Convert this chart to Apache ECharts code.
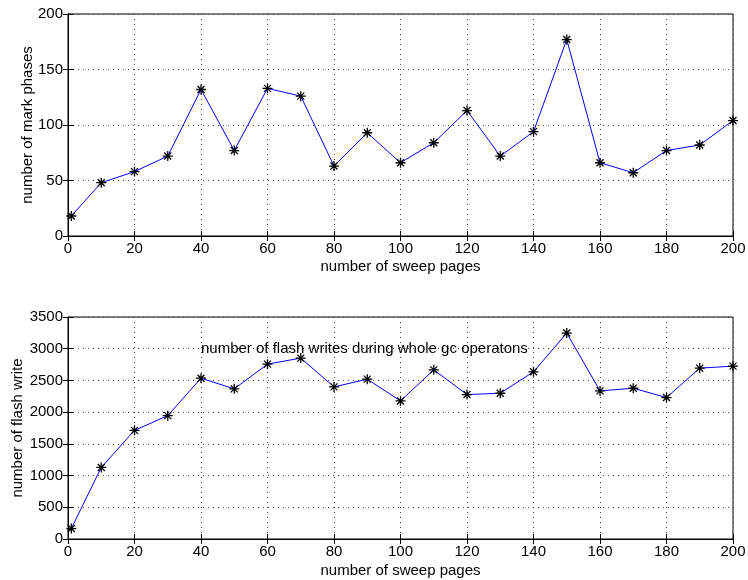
<!DOCTYPE html>
<html><head><meta charset="utf-8">
<script src="https://cdn.jsdelivr.net/npm/echarts@6/dist/echarts.min.js"></script>
<style>html,body{margin:0;padding:0;background:#fff}#c{width:748px;height:580px}</style>
</head><body><div id="c"></div>
<script>
var sweepPages = [1,10,20,30,40,50,60,70,80,90,100,110,120,130,140,150,160,170,180,190,200];
var markPhases = [18,48,58,72,132,77,133,126,63,93,66,84,113,72,94,177,66,57,77,82,104];
var flashWrites = [165,1128,1713,1945,2535,2367,2757,2852,2398,2520,2177,2667,2277,2298,2636,3247,2335,2377,2230,2694,2725];
var annotationText = 'number of flash writes during whole gc operatons';
var annotationAt = [40, 3000];

var FONT = '"Liberation Sans", Arial, sans-serif';
var FS = 15;
var star = 'path://M0 5 L10 5 M5 0 L5 10 M1.5 1.5 L8.5 8.5 M1.5 8.5 L8.5 1.5';
var chart = echarts.init(document.getElementById('c'));
function xAx(gi,gap){
  return [{type:'value',gridIndex:gi,min:0,max:200,interval:20,name:'number of sweep pages',nameLocation:'middle',nameGap:gap,nameMoveOverlap:false,
    nameTextStyle:{color:'#000',fontSize:FS,fontFamily:FONT},
    axisLine:{show:true,lineStyle:{color:'#000',width:1}},axisTick:{show:true,inside:true,length:5,lineStyle:{color:'#000'}},
    axisLabel:{color:'#000',fontSize:FS,fontFamily:FONT,margin:5},
    splitLine:{show:true,lineStyle:{color:'#444',type:[1,4],width:1}}},
   {type:'value',gridIndex:gi,position:'top',min:0,max:200,interval:20,
    axisLine:{show:true,lineStyle:{color:'#000'}},axisTick:{show:true,inside:true,length:5,lineStyle:{color:'#000'}},
    axisLabel:{show:false},splitLine:{show:false}}];
}
function yAx(gi,max,interval,name,gap){
  return [{type:'value',gridIndex:gi,min:0,max:max,interval:interval,name:name,nameLocation:'middle',nameGap:gap,nameMoveOverlap:false,
    nameTextStyle:{color:'#000',fontSize:FS,fontFamily:FONT},
    axisLine:{show:true,lineStyle:{color:'#000',width:1}},axisTick:{show:true,inside:true,length:5,lineStyle:{color:'#000'}},
    axisLabel:{color:'#000',fontSize:FS,fontFamily:FONT,margin:5,formatter:function(v){return String(v);}},
    splitLine:{show:true,lineStyle:{color:'#444',type:[1,4],width:1}}},
   {type:'value',gridIndex:gi,position:'right',min:0,max:max,interval:interval,
    axisLine:{show:true,lineStyle:{color:'#000'}},axisTick:{show:true,inside:true,length:5,lineStyle:{color:'#000'}},
    axisLabel:{show:false},splitLine:{show:false}}];
}
function pairs(xs,ys){return xs.map(function(x,i){return [x,ys[i]];});}
var option = {
  animation:false,
  backgroundColor:'#fff',
  grid:[{left:68,top:14,width:665,height:222,show:true,borderColor:'#000',borderWidth:1,outerBoundsMode:'none',containLabel:false},
        {left:68,top:317,width:665,height:222,show:true,borderColor:'#000',borderWidth:1,outerBoundsMode:'none',containLabel:false}],
  xAxis: xAx(0,23).concat(xAx(1,24)),
  yAxis: yAx(0,200,50,'number of mark phases',33).concat(yAx(1,3500,500,'number of flash write',43)),
  series:[
    {type:'line',xAxisIndex:0,yAxisIndex:0,data:pairs(sweepPages,markPhases),
     lineStyle:{color:'#0000ff',width:1},symbol:star,symbolSize:10,
     itemStyle:{color:'rgba(0,0,0,0)',borderColor:'#000',borderWidth:1.3}},
    {type:'line',xAxisIndex:2,yAxisIndex:2,data:pairs(sweepPages,flashWrites),
     lineStyle:{color:'#0000ff',width:1},symbol:star,symbolSize:10,
     itemStyle:{color:'rgba(0,0,0,0)',borderColor:'#000',borderWidth:1.3},
     markPoint:{symbol:'circle',symbolSize:0,silent:true,
       data:[{coord:annotationAt,value:annotationText}],
       label:{show:true,position:'right',distance:0,formatter:annotationText,color:'#000',fontSize:FS,fontFamily:FONT}}}
  ]
};
chart.setOption(option);
</script></body></html>
